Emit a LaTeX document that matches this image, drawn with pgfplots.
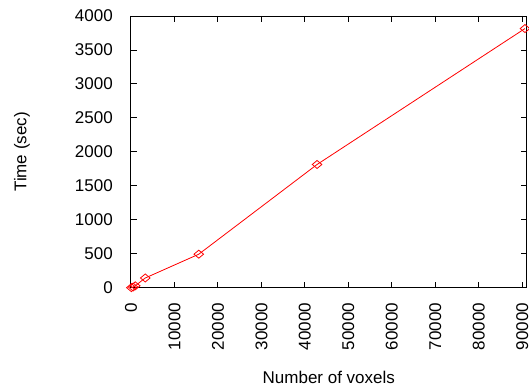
\documentclass[border=0pt]{standalone}
\usepackage{fontspec}
\setmainfont{Liberation Sans}
\usepackage{pgfplots}
\pgfplotsset{compat=1.18}
\begin{document}
\fontsize{17}{20}\selectfont
\begin{tikzpicture}
\begin{axis}[
  scale only axis, width=396pt, height=272pt,
  xmin=0, xmax=91000, ymin=0, ymax=4000,
  xtick={0,10000,20000,30000,40000,50000,60000,70000,80000,90000},
  ytick={0,500,1000,1500,2000,2500,3000,3500,4000},
  minor tick num=0,
  tick align=inside, major tick length=6pt,
  scaled x ticks=false, scaled y ticks=false,
  /pgf/number format/assume math mode=true,
  /pgf/number format/1000 sep={},
  tick label style={font=\fontsize{17}{20}\selectfont, inner sep=0pt},
  xticklabel style={rotate=90, anchor=east},
  xticklabel shift=15pt,
  yticklabel style={anchor=east},
  yticklabel shift=18pt,
  axis line style={black, line width=0.9pt},
  tick style={black, line width=0.9pt},
  xlabel={Number of voxels},
  ylabel={Time (sec)},
  label style={font=\fontsize{17}{20}\selectfont},
  xlabel style={at={(axis description cs:0.5,-0.331)}, anchor=center},
  ylabel style={at={(axis description cs:-0.2753,0.5)}, anchor=center},
]
\coordinate (sw) at (rel axis cs:0,0);
\coordinate (ne) at (rel axis cs:1,1);
\addplot[red, line width=0.8pt, mark=diamond, mark size=4pt, mark options={solid, fill=none, xscale=1.6}]
  coordinates {
    (100,3) (500,12) (1000,30) (3300,145) (15600,495) (42800,1815) (90600,3815)
  };
\end{axis}
\pgfresetboundingbox
\path[use as bounding box] ([shift={(-131pt,-104pt)}]sw) rectangle ([shift={(2.3pt,16pt)}]ne);
\end{tikzpicture}
\end{document}
